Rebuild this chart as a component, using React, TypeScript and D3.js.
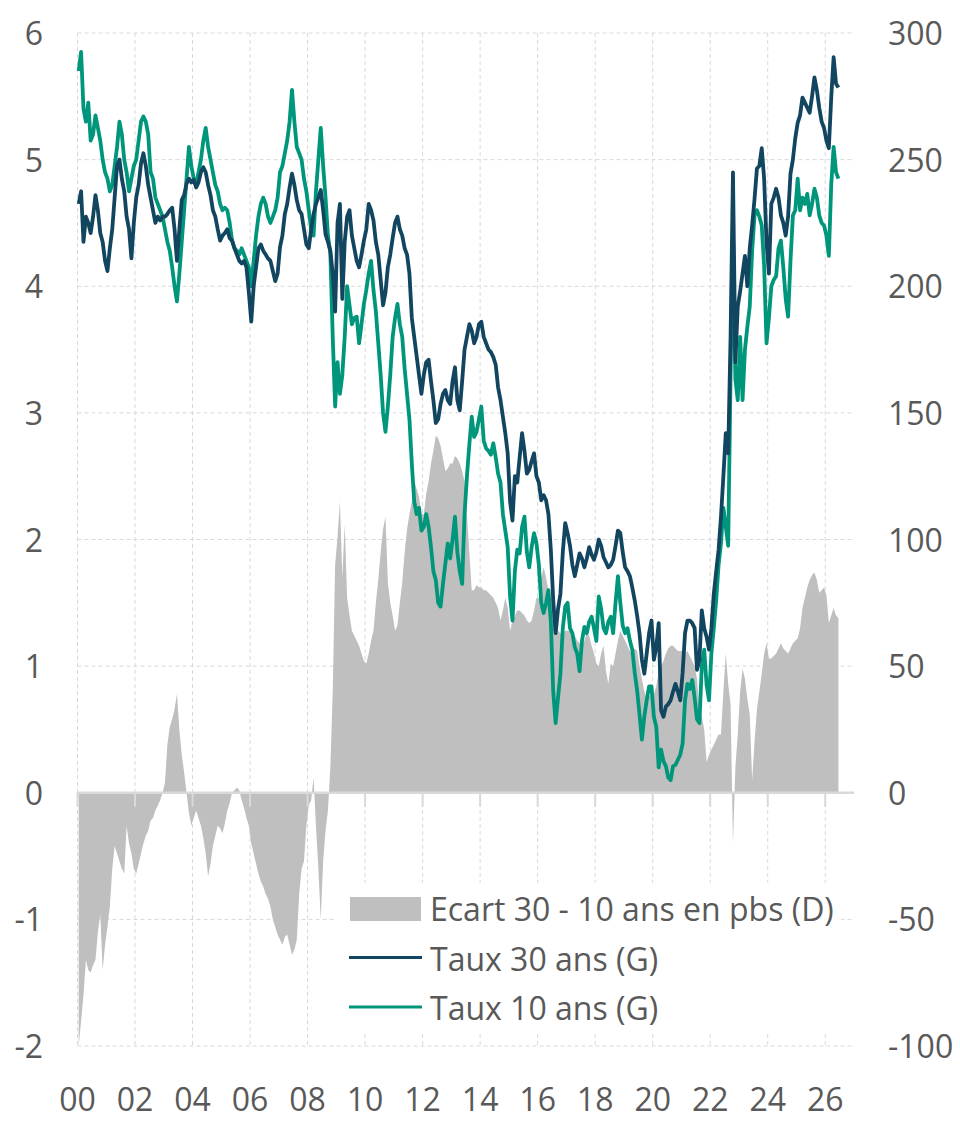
import * as d3 from 'd3';

// monthly values, Jan 2000 -> Jun 2026
const startYear = 2000;

// Taux 30 ans (%), left axis
const taux30 = [
  4.65, 4.75, 4.35, 4.55, 4.5, 4.42, 4.55, 4.72, 4.6, 4.42, 4.35, 4.2, // 2000
  4.12, 4.3, 4.45, 4.7, 4.95, 5.0, 4.85, 4.75, 4.55, 4.45, 4.22, 4.5, // 2001
  4.7, 4.8, 4.97, 5.05, 4.95, 4.8, 4.7, 4.6, 4.5, 4.55, 4.52, 4.55, // 2002
  4.55, 4.57, 4.6, 4.62, 4.45, 4.2, 4.45, 4.68, 4.72, 4.81, 4.85, 4.82, // 2003
  4.84, 4.78, 4.82, 4.9, 4.94, 4.9, 4.8, 4.72, 4.6, 4.55, 4.45, 4.36, // 2004
  4.4, 4.42, 4.45, 4.38, 4.36, 4.3, 4.25, 4.2, 4.18, 4.2, 4.15, 3.95, // 2005
  3.72, 4.0, 4.15, 4.3, 4.33, 4.28, 4.25, 4.22, 4.2, 4.12, 4.04, 4.1, // 2006
  4.31, 4.4, 4.57, 4.65, 4.78, 4.89, 4.8, 4.68, 4.6, 4.57, 4.45, 4.33, // 2007
  4.3, 4.45, 4.57, 4.65, 4.7, 4.76, 4.6, 4.41, 4.35, 4.28, 4.1, 3.8, // 2008
  4.5, 4.65, 3.9, 4.35, 4.55, 4.6, 4.4, 4.3, 4.2, 4.15, 4.25, 4.36, // 2009
  4.45, 4.65, 4.6, 4.52, 4.35, 4.25, 4.05, 3.85, 3.95, 4.15, 4.25, 4.38, // 2010
  4.5, 4.55, 4.45, 4.4, 4.3, 4.25, 4.1, 3.75, 3.6, 3.45, 3.3, 3.15, // 2011
  3.3, 3.4, 3.42, 3.25, 3.1, 2.92, 2.95, 3.07, 3.15, 3.18, 3.1, 3.07, // 2012
  3.25, 3.36, 3.1, 3.02, 3.25, 3.5, 3.6, 3.7, 3.65, 3.55, 3.6, 3.7, // 2013
  3.72, 3.6, 3.55, 3.5, 3.48, 3.44, 3.38, 3.2, 3.1, 2.97, 2.84, 2.68, // 2014
  2.3, 2.15, 2.5, 2.45, 2.65, 2.84, 2.7, 2.52, 2.55, 2.62, 2.68, 2.5, // 2015
  2.45, 2.31, 2.35, 2.31, 2.2, 1.92, 1.52, 1.26, 1.45, 1.57, 1.9, 2.13, // 2016
  2.05, 1.95, 1.8, 1.71, 1.8, 1.89, 1.85, 1.78, 1.85, 1.94, 1.88, 1.84, // 2017
  1.9, 2.0, 1.95, 1.86, 1.82, 1.78, 1.8, 1.84, 1.95, 2.07, 2.05, 1.9, // 2018
  1.78, 1.75, 1.71, 1.62, 1.52, 1.4, 1.26, 1.05, 0.94, 1.1, 1.26, 1.36, // 2019
  1.05, 1.15, 1.34, 0.65, 0.6, 0.68, 0.7, 0.73, 0.8, 0.86, 0.8, 0.73, // 2020
  0.95, 1.26, 1.36, 1.36, 1.34, 1.3, 0.97, 1.05, 1.44, 1.3, 1.23, 1.13, // 2021
  1.3, 1.57, 1.75, 1.92, 2.18, 2.5, 2.84, 2.68, 3.6, 4.9, 3.4, 3.84, // 2022
  3.96, 4.1, 4.24, 4.0, 4.3, 4.48, 4.69, 4.93, 4.95, 5.09, 4.85, 4.35, // 2023
  4.1, 4.65, 4.7, 4.77, 4.7, 4.56, 4.5, 4.4, 4.55, 4.89, 5.0, 5.17, // 2024
  5.29, 5.35, 5.49, 5.45, 5.41, 5.37, 5.5, 5.65, 5.55, 5.41, 5.3, 5.25, // 2025
  5.15, 5.09, 5.49, 5.81, 5.6, 5.57 // 2026
];

// Taux 10 ans (%), left axis
const taux10 = [
  5.7, 5.85, 5.4, 5.3, 5.45, 5.15, 5.2, 5.35, 5.25, 5.15, 5.0, 4.9, // 2000
  4.85, 4.75, 4.8, 4.95, 5.1, 5.3, 5.2, 5.0, 4.9, 4.75, 4.85, 4.95, // 2001
  5.0, 5.15, 5.3, 5.34, 5.3, 5.2, 4.9, 4.85, 4.7, 4.65, 4.6, 4.55, // 2002
  4.45, 4.35, 4.28, 4.15, 4.0, 3.88, 4.1, 4.35, 4.6, 4.85, 5.1, 4.95, // 2003
  4.85, 4.8, 4.9, 5.0, 5.15, 5.25, 5.1, 5.0, 4.9, 4.8, 4.75, 4.65, // 2004
  4.6, 4.62, 4.6, 4.5, 4.36, 4.3, 4.28, 4.25, 4.3, 4.25, 4.2, 4.15, // 2005
  4.0, 4.2, 4.4, 4.55, 4.65, 4.7, 4.65, 4.55, 4.5, 4.55, 4.6, 4.7, // 2006
  4.9, 4.95, 5.05, 5.15, 5.3, 5.55, 5.3, 5.1, 5.05, 5.0, 4.85, 4.75, // 2007
  4.6, 4.45, 4.4, 4.75, 5.0, 5.25, 4.95, 4.7, 4.4, 4.26, 3.6, 3.05, // 2008
  3.4, 3.15, 3.3, 3.6, 4.0, 3.85, 3.7, 3.75, 3.76, 3.55, 3.7, 3.86, // 2009
  3.97, 4.1, 4.2, 3.97, 3.8, 3.55, 3.3, 3.0, 2.85, 3.05, 3.3, 3.6, // 2010
  3.75, 3.86, 3.7, 3.6, 3.35, 3.15, 2.95, 2.6, 2.3, 2.2, 2.25, 2.07, // 2011
  2.1, 2.2, 2.1, 1.94, 1.75, 1.68, 1.5, 1.47, 1.65, 1.81, 1.97, 1.85, // 2012
  2.0, 2.18, 1.9, 1.75, 1.65, 2.2, 2.5, 2.75, 2.97, 2.81, 2.85, 2.95, // 2013
  3.05, 2.78, 2.72, 2.7, 2.67, 2.76, 2.65, 2.52, 2.45, 2.2, 2.07, 1.94, // 2014
  1.55, 1.36, 1.75, 1.92, 1.89, 2.1, 2.18, 1.9, 1.78, 1.94, 2.05, 1.97, // 2015
  1.8, 1.5, 1.42, 1.5, 1.6, 1.35, 0.8, 0.55, 0.75, 0.94, 1.3, 1.47, // 2016
  1.5, 1.3, 1.26, 1.15, 1.1, 0.96, 1.2, 1.31, 1.26, 1.35, 1.39, 1.3, // 2017
  1.2, 1.55, 1.45, 1.3, 1.26, 1.35, 1.39, 1.26, 1.5, 1.71, 1.5, 1.32, // 2018
  1.26, 1.3, 1.2, 1.13, 0.95, 0.81, 0.62, 0.42, 0.6, 0.73, 0.84, 0.84, // 2019
  0.6, 0.52, 0.2, 0.34, 0.25, 0.21, 0.12, 0.1, 0.21, 0.22, 0.26, 0.3, // 2020
  0.39, 0.73, 0.86, 0.82, 0.89, 0.75, 0.58, 0.55, 1.0, 1.13, 0.85, 0.73, // 2021
  1.1, 1.3, 1.52, 1.8, 1.97, 2.25, 2.1, 1.95, 3.3, 4.45, 3.27, 3.1, // 2022
  3.6, 3.1, 3.5, 3.68, 3.84, 4.28, 4.56, 4.6, 4.55, 4.48, 4.16, 3.55, // 2023
  3.75, 4.0, 4.05, 4.08, 4.3, 4.36, 4.15, 3.9, 3.76, 4.2, 4.56, 4.6, // 2024
  4.85, 4.6, 4.7, 4.65, 4.73, 4.56, 4.65, 4.77, 4.7, 4.56, 4.5, 4.48, // 2025
  4.4, 4.24, 4.8, 5.1, 4.9, 4.85 // 2026
];

// Ecart 30 - 10 ans (pbs), right axis
const ecart = [
  -100, -90, -80, -66, -70, -71, -68, -66, -55, -48, -70, -60, // 2000
  -53, -45, -30, -21, -24, -27, -30, -32, -13, -20, -24, -30, // 2001
  -32, -28, -24, -20, -17, -15, -11, -10, -7, -5, -3, 0, // 2002
  4, 19, 26, 29, 33, 39, 25, 15, 8, 0, -8, -13, // 2003
  -10, -7, -10, -13, -18, -24, -33, -28, -21, -17, -13, -14, // 2004
  -16, -12, -7, -4, 0, 1, 2, 1, -3, -6, -10, -13, // 2005
  -20, -24, -28, -32, -35, -37, -40, -42, -45, -50, -53, -56, // 2006
  -58, -60, -57, -56, -60, -64, -62, -58, -40, -30, -27, -13, // 2007
  -5, -3, 6, -13, -30, -50, -27, -15, -7, 10, 40, 90, // 2008
  101, 115, 85, 106, 77, 70, 64, 62, 60, 58, 55, 52, // 2009
  51, 55, 60, 64, 75, 84, 95, 104, 109, 83, 75, 70, // 2010
  64, 66, 75, 83, 95, 104, 110, 115, 123, 120, 117, 110, // 2011
  110, 118, 123, 130, 135, 141, 140, 137, 132, 127, 128, 130, // 2012
  130, 133, 132, 130, 127, 123, 110, 95, 80, 80, 82, 81, // 2013
  81, 80, 80, 79, 78, 77, 75, 73, 68, 72, 77, 73, // 2014
  64, 68, 70, 72, 72, 71, 70, 68, 67, 68, 72, 77, // 2015
  77, 85, 89, 85, 80, 77, 76, 70, 64, 63, 62, 64, // 2016
  64, 64, 63, 62, 60, 59, 58, 60, 63, 62, 58, 55, // 2017
  51, 50, 55, 58, 48, 43, 51, 50, 55, 60, 64, 62, // 2018
  60, 58, 56, 55, 57, 56, 50, 45, 40, 37, 38, 39, // 2019
  39, 42, 48, 50, 52, 55, 57, 58, 58, 57, 56, 56, // 2020
  56, 55, 56, 54, 52, 50, 45, 33, 30, 25, 12, 15, // 2021
  17, 19, 21, 23, 23, 40, 55, 43, 35, -20, 10, 23, // 2022
  40, 49, 45, 37, 31, 5, 20, 33, 40, 47, 55, 59, // 2023
  53, 53, 54, 55, 57, 59, 57, 56, 55, 57, 59, 60, // 2024
  61, 65, 73, 77, 81, 84, 86, 87, 84, 79, 80, 81, // 2025
  78, 67, 70, 73, 70, 69 // 2026
];

const leftTicks = [-2, -1, 0, 1, 2, 3, 4, 5, 6];
const rightTicks = [-100, -50, 0, 50, 100, 150, 200, 250, 300];
const yearTicks = [2000, 2002, 2004, 2006, 2008, 2010, 2012, 2014, 2016, 2018, 2020, 2022, 2024, 2026];
const legendLabels = ['Ecart 30 - 10 ans en pbs (D)', 'Taux 30 ans (G)', 'Taux 10 ans (G)'];

const colors = { ecart: '#bfbfbf', t30: '#12455f', t10: '#00967c' };

const App = () => {
  const width = 960;
  const height = 1121;
  const marginLeft = 77.5;
  const marginRight = 106;
  const marginTop = 33;
  const marginBottom = 75;
  const font = "'Open Sans', sans-serif";
  const textColor = '#595959';
  const gridColor = '#d9d9d9';

  const x = d3.scaleLinear([2000, 2027], [marginLeft, width - marginRight]);
  const yL = d3.scaleLinear([-2, 6], [height - marginBottom, marginTop]);
  const yR = d3.scaleLinear([-100, 300], [height - marginBottom, marginTop]);
  const t = (i: number) => startYear + (i + 0.5) / 12;

  const line = d3.line<number>().x((_, i) => x(t(i))).y(d => yL(d));
  const area = d3.area<number>().x((_, i) => x(t(i))).y0(yR(0)).y1(d => yR(d));

  const x0 = marginLeft;
  const x1 = width - marginRight;

  return (
    <svg width={width} height={height} viewBox={`0 0 ${width} ${height}`}
      style={{ position: 'absolute', left: 0, top: 0, display: 'block', background: '#fff' }}
      fontFamily={font}>
      <g stroke={gridColor} strokeWidth={1} strokeDasharray="4,3">
        {leftTicks.map(v => (
          <line key={'h' + v} x1={x0} x2={x1} y1={yL(v)} y2={yL(v)} />
        ))}
        {yearTicks.map(yr => (
          <line key={'v' + yr} x1={x(yr)} x2={x(yr)} y1={yL(6)} y2={yL(-2)} />
        ))}
      </g>

      <path d={area(ecart) ?? ''} fill={colors.ecart} />

      <line x1={x0} x2={x1} y1={yL(0)} y2={yL(0)} stroke={gridColor} strokeWidth={2.5} />
      <g stroke={gridColor} strokeWidth={2}>
        {yearTicks.map(yr => (
          <line key={'t' + yr} x1={x(yr)} x2={x(yr)} y1={yL(0)} y2={yL(0) + 14} />
        ))}
      </g>

      <path d={line(taux10) ?? ''} fill="none" stroke={colors.t10} strokeWidth={3.8} strokeLinejoin="round" />
      <path d={line(taux30) ?? ''} fill="none" stroke={colors.t30} strokeWidth={3.8} strokeLinejoin="round" />

      <g fontSize={32} fill={textColor}>
        {leftTicks.map(v => (
          <text key={'l' + v} x={43} y={yL(v) + 12} textAnchor="end">{v}</text>
        ))}
        {rightTicks.map(v => (
          <text key={'r' + v} x={888} y={yR(v) + 12} textAnchor="start">{v}</text>
        ))}
        {yearTicks.map(yr => (
          <text key={'x' + yr} x={x(yr)} y={1111} textAnchor="middle">
            {String(yr % 100).padStart(2, '0')}
          </text>
        ))}
      </g>

      <g>
        <rect x={335} y={883} width={506} height={151} fill="#fff" />
        <rect x={350} y={897} width={71} height={24} fill={colors.ecart} />
        <line x1={349} x2={422} y1={957.5} y2={957.5} stroke={colors.t30} strokeWidth={3.2} />
        <line x1={349} x2={422} y1={1007} y2={1007} stroke={colors.t10} strokeWidth={3.2} />
        <g fontSize={32} fill={textColor}>
          <text x={430} y={921}>{legendLabels[0]}</text>
          <text x={430} y={971}>{legendLabels[1]}</text>
          <text x={430} y={1020}>{legendLabels[2]}</text>
        </g>
      </g>
    </svg>
  );
};

export default App;
